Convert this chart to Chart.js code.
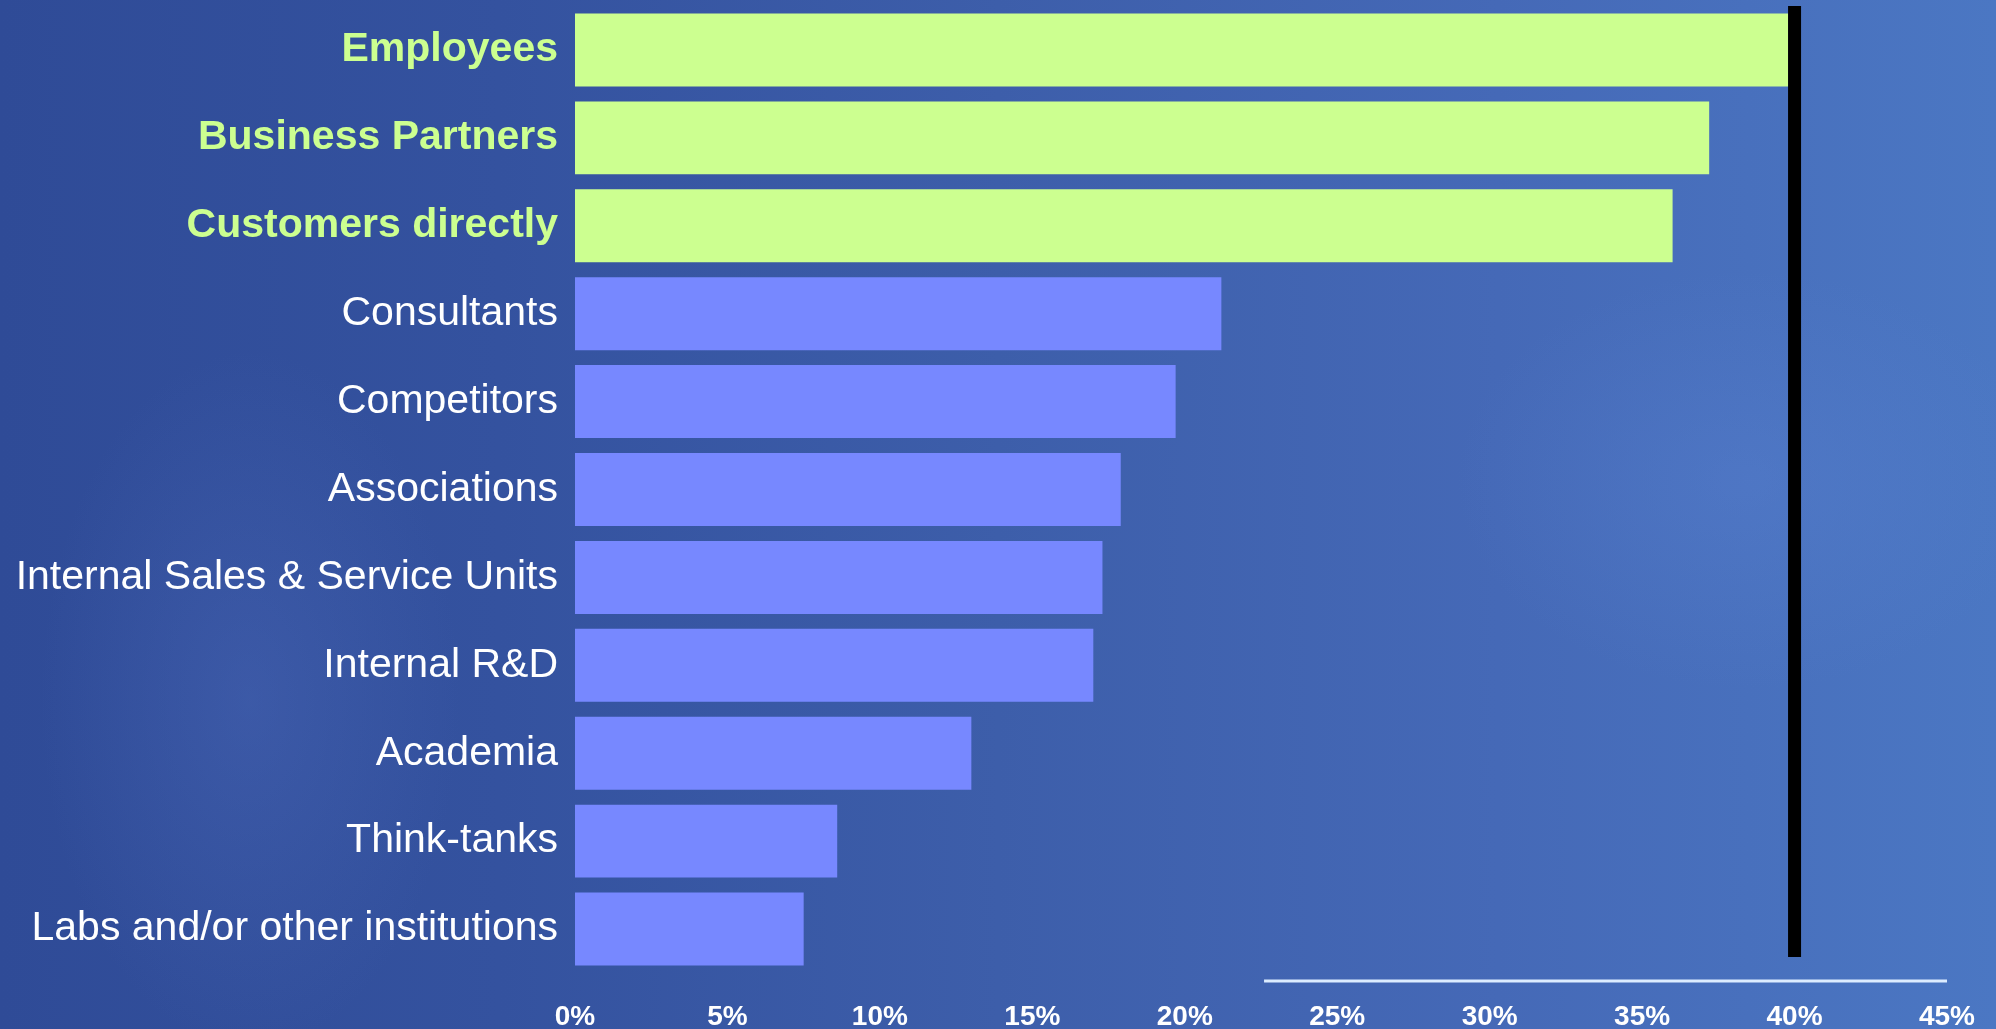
<!DOCTYPE html>
<html>
<head>
<meta charset="utf-8">
<title>Sources of innovation</title>
<script src="https://cdn.jsdelivr.net/npm/chart.js"></script>
<style>
    html, body {
        margin: 0;
        padding: 0;
        overflow: hidden;
    }
    #wrap {
        position: relative;
        width: 1996px;
        height: 1029px;
        background:
            radial-gradient(ellipse 420px 300px at 1750px 480px, rgba(90,130,210,0.35), rgba(90,130,210,0) 70%),
            radial-gradient(ellipse 300px 500px at 250px 700px, rgba(80,110,190,0.35), rgba(80,110,190,0) 70%),
            linear-gradient(90deg, #2f4b97 0%, #34529f 25%, #3d5eaa 50%, #4569b7 75%, #4b77c3 100%);
    }
</style>
</head>
<body>
<div id="wrap"><canvas id="bar"></canvas></div>
<script>
"use strict";

var categories = ['Employees', 'Business Partners', 'Customers directly', 'Consultants', 'Competitors',
    'Associations', 'Internal Sales & Service Units', 'Internal R&D', 'Academia', 'Think-tanks',
    'Labs and/or other institutions'];
var values = [39.8, 37.2, 36.0, 21.2, 19.7, 17.9, 17.3, 17.0, 13.0, 8.6, 7.5];
var highlighted = [true, true, true, false, false, false, false, false, false, false, false];
var xTicks = [0, 5, 10, 15, 20, 25, 30, 35, 40, 45];
var markerValue = 40;

var GREEN = '#ccff90';
var BLUE = '#7788ff';

// black marker at 40% and the thin white rule above the axis
var decorations = {
    id: 'decorations',
    afterDatasetsDraw: function(chart) {
        var ctx = chart.ctx;
        var x = chart.scales.x;
        var area = chart.chartArea;
        ctx.save();
        ctx.fillStyle = '#000';
        var px = x.getPixelForValue(markerValue);
        ctx.fillRect(px - 6.5, area.top, 13, area.bottom - area.top - 16);
        ctx.strokeStyle = '#dcecff';
        ctx.lineWidth = 3;
        ctx.beginPath();
        ctx.moveTo(x.getPixelForValue(22.6), area.bottom + 8);
        ctx.lineTo(x.getPixelForValue(45), area.bottom + 8);
        ctx.stroke();
        ctx.restore();
    }
};

window.onload = function() {
    var ctx = document.getElementById('bar').getContext('2d');
    var chart = new Chart(ctx, {
        type: 'bar',
        data: {
            labels: categories,
            datasets: [{
                data: values,
                backgroundColor: highlighted.map(function(h) { return h ? GREEN : BLUE; }),
                borderWidth: 0,
                categoryPercentage: 1.0,
                barPercentage: 0.83
            }]
        },
        options: {
            indexAxis: 'y',
            responsive: true,
            maintainAspectRatio: false,
            animation: false,
            layout: { padding: { top: 6, right: 49, bottom: 0, left: 0 } },
            plugins: {
                legend: { display: false },
                tooltip: { enabled: false }
            },
            scales: {
                x: {
                    min: 0,
                    max: 45,
                    afterBuildTicks: function(scale) {
                        scale.ticks = xTicks.map(function(v) { return { value: v }; });
                    },
                    afterFit: function(scale) {
                        scale.height = 56;
                        scale.paddingLeft = 0;
                        scale.paddingRight = 0;
                    },
                    grid: { display: false, drawTicks: false },
                    border: { display: false },
                    ticks: {
                        color: '#ffffff',
                        padding: 27,
                        maxRotation: 0,
                        font: { family: 'Liberation Sans, Arial, sans-serif', size: 28, weight: 'bold' },
                        callback: function(v) { return v + '%'; }
                    }
                },
                y: {
                    afterFit: function(scale) {
                        scale.width = 575;
                        // labels may overhang the plot, don't shrink it for them
                        scale.paddingTop = 0;
                        scale.paddingBottom = 0;
                    },
                    grid: { display: false, drawTicks: false },
                    border: { display: false },
                    ticks: {
                        padding: 17,
                        color: function(c) { return highlighted[c.index] ? GREEN : '#ffffff'; },
                        font: function(c) {
                            return {
                                family: 'Liberation Sans, Arial, sans-serif',
                                size: 41,
                                weight: highlighted[c.index] ? 'bold' : 'normal'
                            };
                        }
                    }
                }
            }
        },
        plugins: [decorations]
    });
    window.mychart = chart; // for debug
};
</script>
</body>
</html>
